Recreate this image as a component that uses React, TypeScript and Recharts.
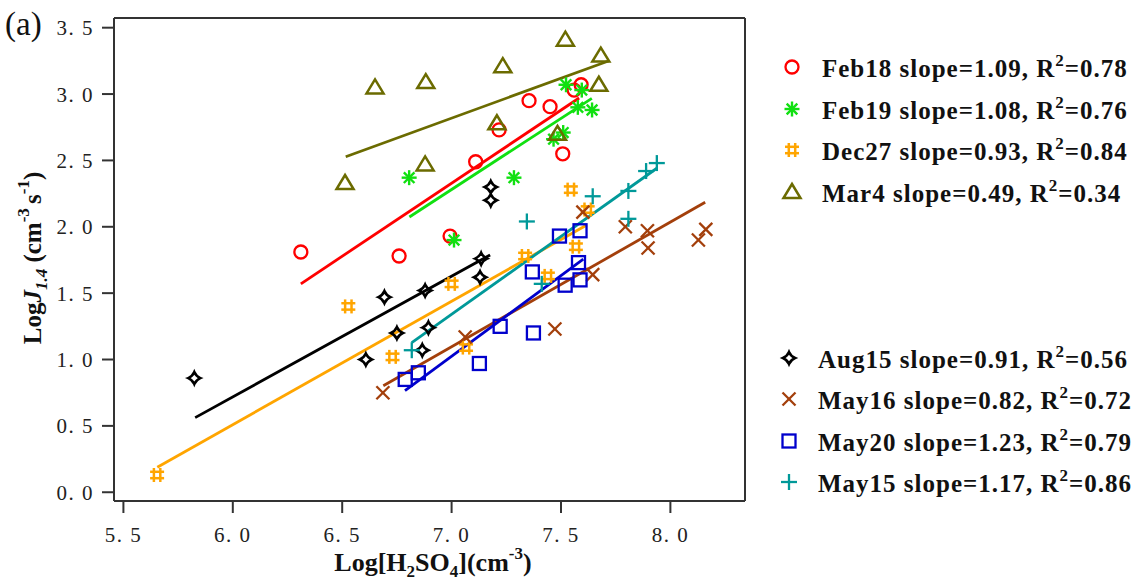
import React from 'react';
import { ScatterChart, Scatter, XAxis, YAxis } from 'recharts';

// ---- data ----
const xTicks = [5.5, 6.0, 6.5, 7.0, 7.5, 8.0];
const yTicks = [0, 0.5, 1.0, 1.5, 2.0, 2.5, 3.0, 3.5];

const feb18 = [[6.311,1.81],[6.76,1.78],[6.993,1.93],[7.11,2.49],[7.217,2.73],[7.354,2.95],[7.45,2.905],[7.508,2.55],[7.56,3.03],[7.592,3.07]];
const feb18Fit = [[6.311,1.57],[7.583,2.97]];

const feb19 = [[6.806,2.37],[7.011,1.90],[7.285,2.37],[7.466,2.66],[7.51,2.71],[7.523,3.07],[7.595,3.03],[7.577,2.90],[7.642,2.88]];
const feb19Fit = [[6.807,2.074],[7.641,2.968]];

const dec27 = [[5.654,0.13],[6.528,1.40],[6.73,1.02],[7.0,1.57],[7.066,1.09],[7.336,1.78],[7.44,1.63],[7.545,2.28],[7.568,1.85],[7.622,2.13]];
const dec27Fit = [[5.655,0.188],[7.618,2.014]];

const mar4 = [[6.513,2.33],[6.65,3.05],[6.882,3.09],[6.879,2.47],[7.207,2.78],[7.234,3.21],[7.484,2.70],[7.52,3.41],[7.673,3.07],[7.682,3.29]];
const mar4Fit = [[6.516,2.528],[7.717,3.249]];

const aug15 = [[5.824,0.86],[6.608,1.00],[6.693,1.47],[6.75,1.20],[6.866,1.07],[6.894,1.24],[6.879,1.52],[7.13,1.62],[7.135,1.76],[7.179,2.30],[7.179,2.20]];
const aug15Fit = [[5.828,0.562],[7.176,1.788]];

const may16 = [[6.686,0.75],[7.062,1.17],[7.472,1.23],[7.645,1.64],[7.6,2.11],[7.794,2.00],[7.895,1.97],[7.898,1.84],[8.128,1.90],[8.162,1.98]];
const may16Fit = [[6.688,0.803],[8.159,2.185]];

const may20 = [[6.788,0.85],[6.848,0.90],[7.127,0.97],[7.222,1.25],[7.374,1.20],[7.369,1.66],[7.493,1.93],[7.587,1.97],[7.58,1.73],[7.519,1.56],[7.587,1.60]];
const may20Fit = [[6.787,0.765],[7.602,1.757]];

const may15 = [[6.818,1.07],[7.344,2.04],[7.412,1.57],[7.645,2.23],[7.808,2.27],[7.808,2.06],[7.889,2.42],[7.938,2.48]];
const may15Fit = [[6.818,1.127],[7.938,2.441]];

const seriesNames = ['Feb18','Feb19','Dec27','Mar4','Aug15','May16','May20','May15'];
const slopes = ['1.09','1.08','0.93','0.49','0.91','0.82','1.23','1.17'];
const r2s = ['0.78','0.76','0.84','0.34','0.56','0.72','0.79','0.86'];

const toPts = (a: number[][]) => a.map(([x, y]) => ({ x, y }));

const series = [
  { name: 'Feb18', pts: feb18, fit: feb18Fit, color: '#ff0000', mark: 'circle' },
  { name: 'Feb19', pts: feb19, fit: feb19Fit, color: '#11e011', mark: 'star' },
  { name: 'Dec27', pts: dec27, fit: dec27Fit, color: '#ffa500', mark: 'hash' },
  { name: 'Mar4', pts: mar4, fit: mar4Fit, color: '#6b6b00', mark: 'tri' },
  { name: 'Aug15', pts: aug15, fit: aug15Fit, color: '#000000', mark: 'diamond' },
  { name: 'May16', pts: may16, fit: may16Fit, color: '#a33f0b', mark: 'x' },
  { name: 'May20', pts: may20, fit: may20Fit, color: '#0000cc', mark: 'square' },
  { name: 'May15', pts: may15, fit: may15Fit, color: '#009999', mark: 'plus' },
];

function Marker({ type, cx, cy, color }: { type: string; cx: number; cy: number; color: string }) {
  const sw = 2.3;
  const common = { stroke: color, strokeWidth: sw, fill: 'none' } as any;
  switch (type) {
    case 'circle':
      return <circle cx={cx} cy={cy} r={6.5} {...common} />;
    case 'star': {
      const r = 7.5, d = r * 0.7071;
      return (
        <g {...common} strokeWidth={2.4}>
          <line x1={cx} y1={cy - r} x2={cx} y2={cy + r} />
          <line x1={cx - r} y1={cy} x2={cx + r} y2={cy} />
          <line x1={cx - d} y1={cy - d} x2={cx + d} y2={cy + d} />
          <line x1={cx - d} y1={cy + d} x2={cx + d} y2={cy - d} />
        </g>
      );
    }
    case 'hash':
      return (
        <g {...common} strokeWidth={2.5}>
          <line x1={cx - 3.2} y1={cy - 7} x2={cx - 3.2} y2={cy + 7} />
          <line x1={cx + 3.2} y1={cy - 7} x2={cx + 3.2} y2={cy + 7} />
          <line x1={cx - 7} y1={cy - 3.2} x2={cx + 7} y2={cy - 3.2} />
          <line x1={cx - 7} y1={cy + 3.2} x2={cx + 7} y2={cy + 3.2} />
        </g>
      );
    case 'tri':
      return <polygon points={`${cx},${cy - 8} ${cx + 8.5},${cy + 6} ${cx - 8.5},${cy + 6}`} {...common} strokeWidth={2.5} />;
    case 'diamond': {
      const r = 6, c = 1.8;
      const d = `M${cx},${cy - r} Q${cx + c},${cy - c} ${cx + r},${cy} Q${cx + c},${cy + c} ${cx},${cy + r} Q${cx - c},${cy + c} ${cx - r},${cy} Q${cx - c},${cy - c} ${cx},${cy - r} Z`;
      return <path d={d} {...common} strokeWidth={2.6} />;
    }
    case 'x': {
      const r = 6.5;
      return (
        <g {...common}>
          <line x1={cx - r} y1={cy - r} x2={cx + r} y2={cy + r} />
          <line x1={cx - r} y1={cy + r} x2={cx + r} y2={cy - r} />
        </g>
      );
    }
    case 'square':
      return <rect x={cx - 6.5} y={cy - 6.5} width={13} height={13} {...common} />;
    case 'plus': {
      const r = 8;
      return (
        <g {...common}>
          <line x1={cx - r} y1={cy} x2={cx + r} y2={cy} />
          <line x1={cx} y1={cy - r} x2={cx} y2={cy + r} />
        </g>
      );
    }
  }
  return <g />;
}

const fmt = (v: number) => v.toFixed(1).replace('.', '. ');
const axisStyle = { stroke: '#333', strokeWidth: 2 };
const tickFont = { fontFamily: 'Liberation Serif', fontSize: 21, fill: '#222', letterSpacing: 1.5 } as any;

const legendTop = [67, 109, 150, 192, 358, 399, 441, 482];

export default function App() {
  return (
    <div style={{ position: 'absolute', left: 0, top: 0, width: 1144, height: 583, background: '#fff', fontFamily: 'Liberation Serif' }}>
      <ScatterChart width={1144} height={583} margin={{ top: 6, right: 387, bottom: 10, left: 0 }}>
        <XAxis xAxisId="b" type="number" dataKey="x" domain={[5.457, 8.341]} ticks={xTicks} tickFormatter={fmt}
          tickSize={12} tickMargin={14} height={72} axisLine={axisStyle} tickLine={axisStyle} tick={tickFont} allowDataOverflow />
        <XAxis xAxisId="t" orientation="top" type="number" domain={[5.457, 8.341]} ticks={xTicks}
          tickSize={12} height={12} axisLine={axisStyle} tickLine={axisStyle} tick={false} allowDataOverflow />
        <YAxis yAxisId="l" type="number" dataKey="y" domain={[-0.066, 3.573]} ticks={yTicks} tickFormatter={fmt}
          tickSize={12} tickMargin={8} width={114} axisLine={axisStyle} tickLine={axisStyle} tick={tickFont} allowDataOverflow />
        <YAxis yAxisId="r" orientation="right" type="number" domain={[-0.066, 3.573]} ticks={yTicks}
          tickSize={12} width={12} axisLine={axisStyle} tickLine={axisStyle} tick={false} allowDataOverflow />
        {series.map((s) => (
          <Scatter key={s.name + 'fit'} xAxisId="b" yAxisId="l" data={toPts(s.fit)} line={{ stroke: s.color, strokeWidth: 2.8 }}
            lineJointType="linear" shape={() => <g />} isAnimationActive={false} legendType="none" />
        ))}
        {series.map((s) => (
          <Scatter key={s.name} name={s.name} xAxisId="b" yAxisId="l" data={toPts(s.pts)} isAnimationActive={false}
            shape={(p: any) => <Marker type={s.mark} cx={p.cx} cy={p.cy} color={s.color} />} />
        ))}
      </ScatterChart>

      <div style={{ position: 'absolute', left: 5, top: 6, fontSize: 33, fontFamily: 'Liberation Serif', color: '#111' }}>(a)</div>

      <div style={{ position: 'absolute', left: 33, top: 258, transform: 'translate(-50%,-50%) rotate(-90deg)', whiteSpace: 'nowrap',
        fontSize: 25, fontWeight: 'bold', fontFamily: 'Liberation Serif', color: '#111' }}>
        Log<i>J</i><sub style={{ fontSize: 17 }}><i>1.4</i></sub> (cm<sup style={{ fontSize: 17, verticalAlign: '0.7em' }}>-3 </sup>s<sup style={{ fontSize: 17, verticalAlign: '0.7em' }}>-1</sup>)
      </div>

      <div style={{ position: 'absolute', left: 433, top: 563, transform: 'translate(-50%,-50%)', whiteSpace: 'nowrap',
        fontSize: 26, fontWeight: 'bold', fontFamily: 'Liberation Serif', color: '#111' }}>
        Log[H<sub style={{ fontSize: 17 }}>2</sub>SO<sub style={{ fontSize: 17 }}>4</sub>](cm<sup style={{ fontSize: 17, verticalAlign: '0.7em' }}>-3</sup>)
      </div>

      {series.map((s, i) => {
        const y = legendTop[i];
        const sx = i < 4 ? 792 : 789;
        const tx = i < 4 ? 822 : 818;
        return (
          <React.Fragment key={'lg' + s.name}>
            <svg style={{ position: 'absolute', left: sx - 12, top: y - 12 }} width={24} height={24}>
              <Marker type={s.mark} cx={12} cy={12} color={s.color} />
            </svg>
            <div style={{ position: 'absolute', left: tx, top: y, transform: 'translateY(-50%)', whiteSpace: 'nowrap',
              fontSize: 25, fontWeight: 'bold', fontFamily: 'Liberation Serif', color: '#111', letterSpacing: 1 }}>
              {seriesNames[i]} slope={slopes[i]}, R<sup style={{ fontSize: 17, verticalAlign: '0.6em' }}>2</sup>={r2s[i]}
            </div>
          </React.Fragment>
        );
      })}
    </div>
  );
}
